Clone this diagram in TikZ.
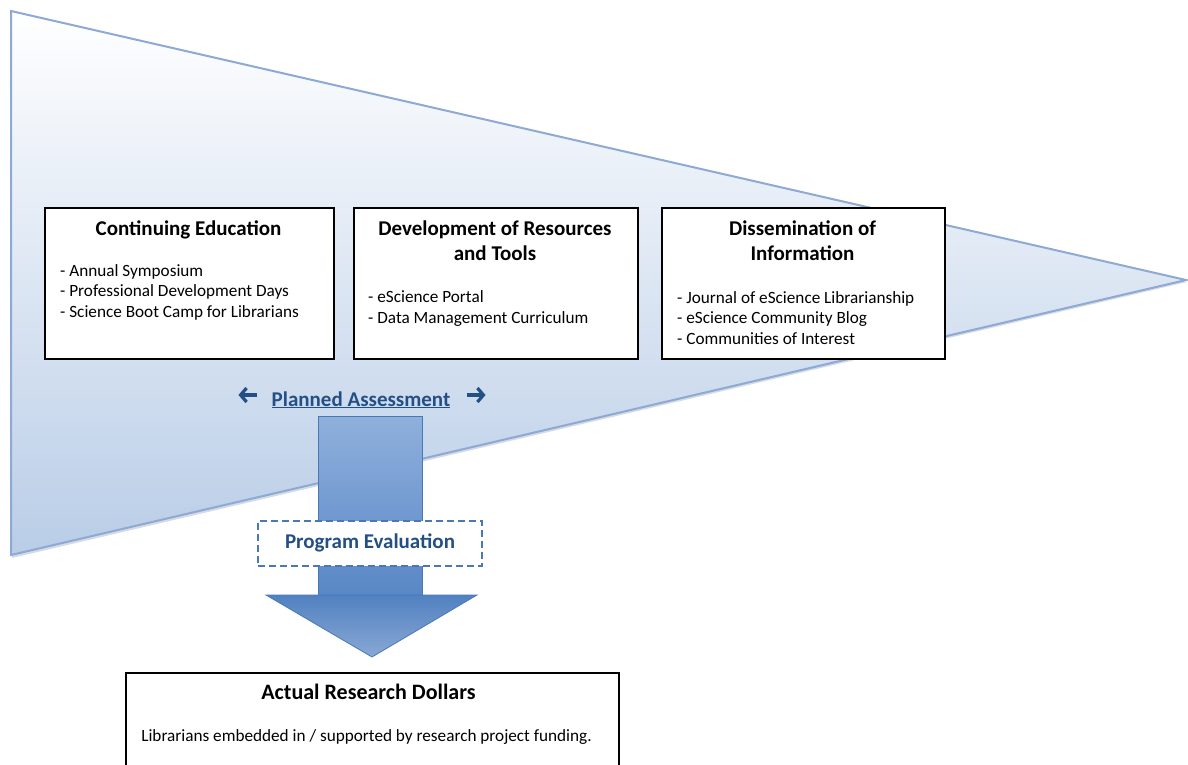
\documentclass[tikz,border=0pt]{standalone}
\usepackage{fontspec}
\setmainfont{Carlito}
\usetikzlibrary{arrows.meta,positioning}
\definecolor{edgeblue}{HTML}{8EA9D3}
\definecolor{paleblue}{HTML}{B9CDE7}
\definecolor{darkblue}{HTML}{234F85}
\definecolor{shafttop}{HTML}{8FB0DC}
\definecolor{shaftbot}{HTML}{5887C6}
\definecolor{headtop}{HTML}{5181C1}
\definecolor{headbot}{HTML}{89A8D5}
\definecolor{arrowedge}{HTML}{4A78B6}

\begin{document}
\begin{tikzpicture}[x=1pt,y=-1pt,
    infobox/.style={draw=black,line width=1.5pt,fill=white,anchor=north west,
      minimum width=#1,minimum height=151pt,inner sep=0pt},
    boxtitle/.style={font=\fontsize{21}{25}\selectfont\bfseries,align=center,anchor=base,inner sep=0pt},
    boxlist/.style={font=\fontsize{17.2}{20.5}\selectfont,align=left,anchor=base west,inner sep=0pt},
    paarrow/.style={draw=darkblue,line width=3.2pt,-{Straight Barb[length=6pt,width=14pt]}}]
    %initialisation
    \useasboundingbox (0,0) rectangle (1188,764);
    \clip (0,0) rectangle (1188,764);
    %funnel
    \fill[edgeblue!60!gray,opacity=.35] (12,13) -- (1187,282) -- (12,558) -- cycle;
    \draw[edgeblue,line width=2pt,top color=white,bottom color=paleblue]
      (11,11) -- (1186,280) -- (11,555) -- cycle;
    %boxes
    \node[infobox=289pt] (cont) at (44,207) {};
    \node[infobox=284pt] (dev) at (353,207) {};
    \node[infobox=283pt] (diss) at (661,207) {};
    %labels (base = last line)
    \node[boxtitle] (cont-t) at (188.5,235) {Continuing Education};
    \node[boxlist] (cont-l) at (60,317) {- Annual Symposium\\- Professional Development Days\\- Science Boot Camp for Librarians};
    \node[boxtitle] (dev-t) at (495,260) {Development of Resources\\and Tools};
    \node[boxlist] (dev-l) at (368,323) {- eScience Portal\\- Data Management Curriculum};
    \node[boxtitle] (diss-t) at (802.5,260) {Dissemination of\\Information};
    \node[boxlist] (diss-l) at (677,344) {- Journal of eScience Librarianship\\- eScience Community Blog\\- Communities of Interest};
    %assessment
    \node[font=\fontsize{21}{25}\selectfont\bfseries,text=darkblue,anchor=base,inner sep=0pt]
      (pa) at (361,406) {\underline{Planned Assessment}};
    \draw[paarrow] ([xshift=-14pt,yshift=11pt]pa.base west) -- ([xshift=-33pt,yshift=11pt]pa.base west);
    \draw[paarrow] ([xshift=16pt,yshift=11pt]pa.base east) -- ([xshift=35pt,yshift=11pt]pa.base east);
    %big arrow
    \draw[arrowedge,line width=.8pt,top color=shafttop,bottom color=shaftbot]
      (318,416) rectangle (422,596);
    \draw[arrowedge,line width=.8pt,top color=headtop,bottom color=headbot]
      (266,595) -- (477,595) -- (372,657) -- cycle;
    \node[draw=arrowedge,line width=2pt,dash pattern=on 7pt off 4pt,fill=white,
      minimum width=224pt,minimum height=45pt,inner sep=0pt,
      font=\fontsize{21}{25}\selectfont\bfseries,text=darkblue] (pe) at (370,543) {Program Evaluation};
    %result
    \node[infobox=493pt,minimum height=110pt] (ard) at (125,672) {};
    \node[boxtitle,font=\fontsize{22}{25}\selectfont\bfseries] (ard-t) at (368.5,699) {Actual Research Dollars};
    \node[boxlist,anchor=base,font=\fontsize{17.2}{21}\selectfont] (ard-l) at (366.5,741) {Librarians embedded in / supported by research project funding.};
\end{tikzpicture}
\end{document}
